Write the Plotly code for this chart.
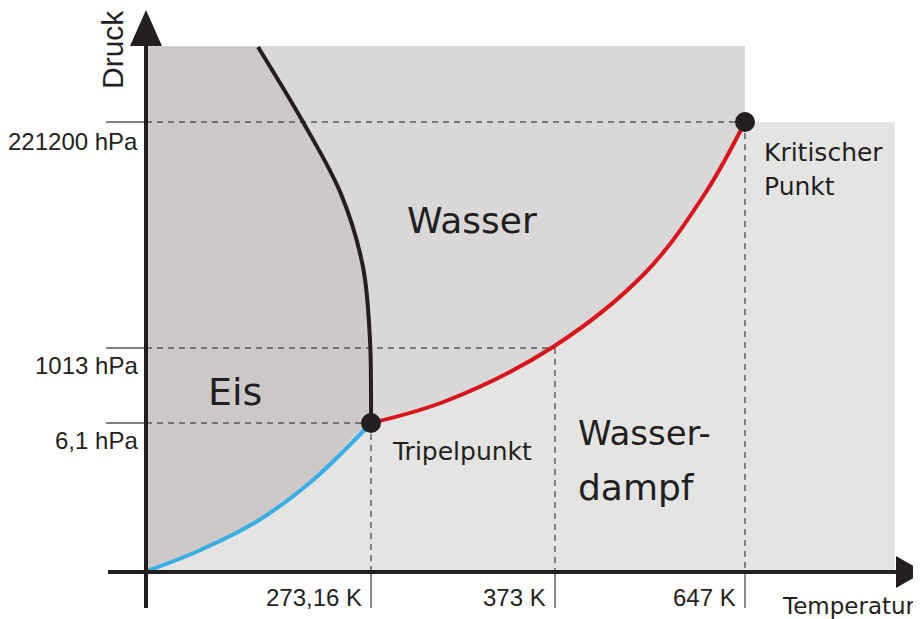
import plotly.graph_objects as go

# schematic coordinates: origin where the axes cross, units ~ pixels
# tick positions / labels
temp_ticks = [225, 409, 599]
temp_labels = ["273,16 K", "373 K", "647 K"]
press_ticks = [149, 224, 450]
press_labels = ["6,1 hPa", "1013 hPa", "221200 hPa"]

# phase boundaries
melt_x = [112, 157, 195, 217, 224, 225, 225]
melt_y = [525, 450, 378, 305, 232, 180, 149]
subl_x = [1, 50, 110, 167, 225]
subl_y = [1, 20, 50, 92, 149]
vap_x = [225, 300, 407, 500, 560, 599]
vap_y = [149, 171, 225, 300, 380, 450]

triple = (225, 149)
critical = (599, 450)

x_max, y_top = 749, 526

INK = "#231f20"
ICE, LIQUID, VAPOUR = "#cdc9c9", "#d9d7d8", "#e4e4e3"
TICK_FONT = dict(family="Liberation Sans, Arial", size=24, color=INK)
LABEL_FONT = "DejaVu Sans"

fig = go.Figure()


def area(x, y, color, fill="toself", shape="linear"):
    fig.add_trace(go.Scatter(x=x, y=y, fill=fill, fillcolor=color, mode="lines",
                             line=dict(width=0, shape=shape)))


# liquid background, ice patches, vapour under the curves
area([0, critical[0], critical[0], 0], [0, 0, y_top, y_top], LIQUID)
area([0, triple[0], triple[0], 0], [0, 0, triple[1], triple[1]], ICE)
area(melt_x, melt_y, ICE, fill="tozerox", shape="spline")
area(subl_x + vap_x[1:], subl_y + vap_y[1:], VAPOUR, fill="tozeroy", shape="spline")
area([critical[0], x_max, x_max, critical[0]], [0, 0, critical[1], critical[1]], VAPOUR)

# dashed guide lines
GUIDE = "#5a5859"
dash = dict(color=GUIDE, width=1.4, dash="6px,5px")
for t, p in [(triple[0], triple[1]), (temp_ticks[1], press_ticks[1]), (critical[0], critical[1])]:
    fig.add_trace(go.Scatter(x=[0, t], y=[p, p], mode="lines", line=dash))
    fig.add_trace(go.Scatter(x=[t, t], y=[p, 0], mode="lines", line=dash))
    fig.add_trace(go.Scatter(x=[-40, 0], y=[p, p], mode="lines", line=dict(color=GUIDE, width=1.4)))
    fig.add_trace(go.Scatter(x=[t, t], y=[0, -36], mode="lines", line=dict(color=GUIDE, width=1.4)))

# boundaries
fig.add_trace(go.Scatter(x=melt_x, y=melt_y, mode="lines", line=dict(color=INK, width=4, shape="spline")))
fig.add_trace(go.Scatter(x=subl_x, y=subl_y, mode="lines", line=dict(color="#3aaee2", width=4, shape="spline")))
fig.add_trace(go.Scatter(x=vap_x, y=vap_y, mode="lines", line=dict(color="#d7161e", width=4, shape="spline")))

# axes with arrow heads
fig.add_trace(go.Scatter(x=[0, 0], y=[-36, 530], mode="lines", line=dict(color=INK, width=4)))
fig.add_trace(go.Scatter(x=[-38, 755], y=[0, 0], mode="lines", line=dict(color=INK, width=4)))
fig.add_trace(go.Scatter(x=[-16, 0, 16, -16], y=[526, 562, 526, 526], fill="toself",
                         fillcolor=INK, line=dict(width=0), mode="lines"))
fig.add_trace(go.Scatter(x=[750, 778, 750, 750], y=[16, 0, -16, 16], fill="toself",
                         fillcolor=INK, line=dict(width=0), mode="lines"))

# triple and critical points
fig.add_trace(go.Scatter(x=[triple[0], critical[0]], y=[triple[1], critical[1]], mode="markers",
                         marker=dict(size=20, color=INK)))

# tick labels
for t, lab in zip(temp_ticks, temp_labels):
    fig.add_annotation(x=t - 7, y=-25, text=lab, xanchor="right", yanchor="middle",
                       showarrow=False, font=TICK_FONT)
for p, lab, dy in zip(press_ticks, press_labels, [-17, -17, -19]):
    fig.add_annotation(x=-6, y=p + dy, text=lab, xanchor="right", yanchor="middle",
                       showarrow=False, font=TICK_FONT)

fig.add_annotation(x=-34, y=522, text="Druck", textangle=-90, showarrow=False,
                   font=dict(family="Liberation Sans, Arial", size=30, color=INK))
fig.add_annotation(x=634, y=-34, text="Temperatur", xanchor="left", showarrow=False,
                   font=dict(family=LABEL_FONT, size=23, color=INK))

# region labels
fig.add_annotation(x=326, y=352, text="Wasser", showarrow=False,
                   font=dict(family=LABEL_FONT, size=36, color=INK))
fig.add_annotation(x=89, y=180, text="Eis", showarrow=False,
                   font=dict(family=LABEL_FONT, size=38, color=INK))
fig.add_annotation(x=430, y=139, text="Wasser-", xanchor="left", showarrow=False,
                   font=dict(family=LABEL_FONT, size=34, color=INK))
fig.add_annotation(x=430, y=85, text="dampf", xanchor="left", showarrow=False,
                   font=dict(family=LABEL_FONT, size=36, color=INK))
fig.add_annotation(x=244, y=121, text="Tripelpunkt", xanchor="left", showarrow=False,
                   font=dict(family=LABEL_FONT, size=25, color=INK))
fig.add_annotation(x=616, y=420, text="Kritischer", xanchor="left", showarrow=False,
                   font=dict(family=LABEL_FONT, size=25, color=INK))
fig.add_annotation(x=616, y=386, text="Punkt", xanchor="left", showarrow=False,
                   font=dict(family=LABEL_FONT, size=25, color=INK))

# the page body has an 8 px margin; ranges are shifted so the origin lands at (146, 572)
fig.update_layout(
    width=921, height=619,
    margin=dict(l=0, r=0, t=0, b=0),
    paper_bgcolor="white", plot_bgcolor="white",
    showlegend=False,
    xaxis=dict(range=[-138, 783], visible=False, fixedrange=True),
    yaxis=dict(range=[-55, 564], visible=False, fixedrange=True),
)

fig.write_html("out.html")
